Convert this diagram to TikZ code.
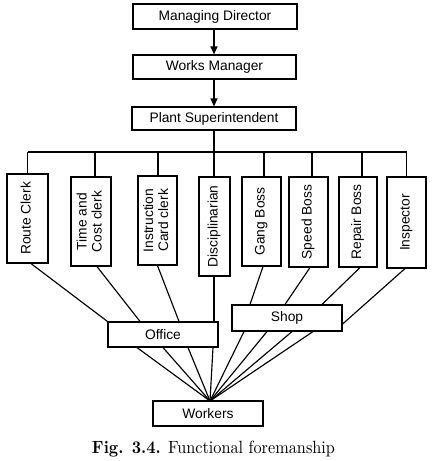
\documentclass[tikz,border=0pt]{standalone}
\usepackage{fontspec}
\setsansfont{Liberation Sans}
\usetikzlibrary{arrows.meta}
\newfontfamily\capfont{Latin Modern Roman}
\begin{document}
\begin{tikzpicture}[x=1pt,y=-1pt,
  box/.style={draw,line width=1.15pt,inner sep=0pt,font=\sffamily\fontsize{13.8}{15}\selectfont,align=center},
  conn/.style={line width=1.15pt},
  arr/.style={line width=1.15pt,-{Triangle[width=7pt,length=8pt]}}]
\useasboundingbox[fill=white] (0,0) rectangle (432,461);
% top chain
\node[box,minimum width=164pt,minimum height=25pt] (md) at (215,16.5) {Managing Director};
\node[box,minimum width=163pt,minimum height=24pt] (wm) at (214.5,67) {Works Manager};
\node[box,minimum width=164pt,minimum height=23pt] (ps) at (214,118.5) {Plant Superintendent};
\draw[arr] (md.south -| 214,0) -- (wm.north -| 214,0);
\draw[arr] (wm.south -| 214,0) -- (ps.north -| 214,0);
% functional foremen
\newcommand{\vt}[1]{\rotatebox{90}{\begin{tabular}{@{}c@{}}#1\end{tabular}}}
\node[box,minimum width=41pt,minimum height=89pt] (rc) at (27.5,218.5) {\vt{Route Clerk}};
\node[box,minimum width=40pt,minimum height=89pt] (tc) at (91,221.5) {\vt{Time and\\Cost clerk}};
\node[box,minimum width=39pt,minimum height=89pt] (ic) at (157.5,220.5) {\vt{Instruction\\Card clerk}};
\node[box,minimum width=31pt,minimum height=99pt] (di) at (214.5,226.5) {\vt{Disciplinarian}};
\node[box,minimum width=39pt,minimum height=89pt] (gb) at (261.5,221.5) {\vt{Gang Boss}};
\node[box,minimum width=39pt,minimum height=90pt] (sb) at (308.5,222) {\vt{Speed Boss}};
\node[box,minimum width=38pt,minimum height=90pt] (rb) at (358,222) {\vt{Repair Boss}};
\node[box,minimum width=39pt,minimum height=91pt] (in) at (406.5,222.5) {\vt{Inspector}};
% bus
\coordinate (busL) at (27.5,152);
\coordinate (busR) at (406.5,152);
\coordinate (busC) at (214,152);
\draw[conn] (ps.south -| busC) -- (busC);
\draw[conn] (busL) -- (busR);
\foreach \b/\x in {rc/27.5,tc/95,ic/158,di/214,gb/264,sb/312,rb/362,in/406.5}{
  \draw[conn] (\x,152) -- (\b.north -| \x,0);
}
% office, shop, workers
\node[box,minimum width=110pt,minimum height=25pt] (of) at (163,334.5) {Office};
\node[box,minimum width=110pt,minimum height=26pt] (sh) at (287,318) {Shop};
\node[box,minimum width=110pt,minimum height=25pt] (wk) at (208,413.5) {Workers};
\coordinate (cv) at (210,401);
% foremen to office / shop
\draw[conn] ([xshift=3.5pt]rc.south) -- (of.north west);
\draw[conn] ([xshift=6pt]tc.south) -- (of.north west -| 140,0);
\draw[conn] (ic.south) -- (of.north west -| 179,0);
\draw[conn] (di.south -| 214,0) -- (of.north west -| 214,0);
\draw[conn] ([xshift=1.5pt]gb.south) -- (sh.north west -| 250,0);
\draw[conn] ([xshift=1.5pt]sb.south) -- (sh.north west -| 285,0);
\draw[conn] ([xshift=2pt]rb.south) -- (sh.north west -| 322,0);
\draw[conn] ([xshift=-1.5pt]in.south) -- ([yshift=-6pt]sh.east);
% office / shop to workers
\foreach \x in {137,163,188,213}{
  \draw[conn] (of.south west -| \x,0) -- (cv);
}
\foreach \x in {244,267,292,313}{
  \draw[conn] (sh.south west -| \x,0) -- (cv);
}
% caption
\node[inner sep=0pt,anchor=base] (cap) at (213.5,453) {\resizebox{243pt}{12.5pt}{\capfont\textbf{Fig. 3.4.} Functional foremanship}};
\end{tikzpicture}
\end{document}
